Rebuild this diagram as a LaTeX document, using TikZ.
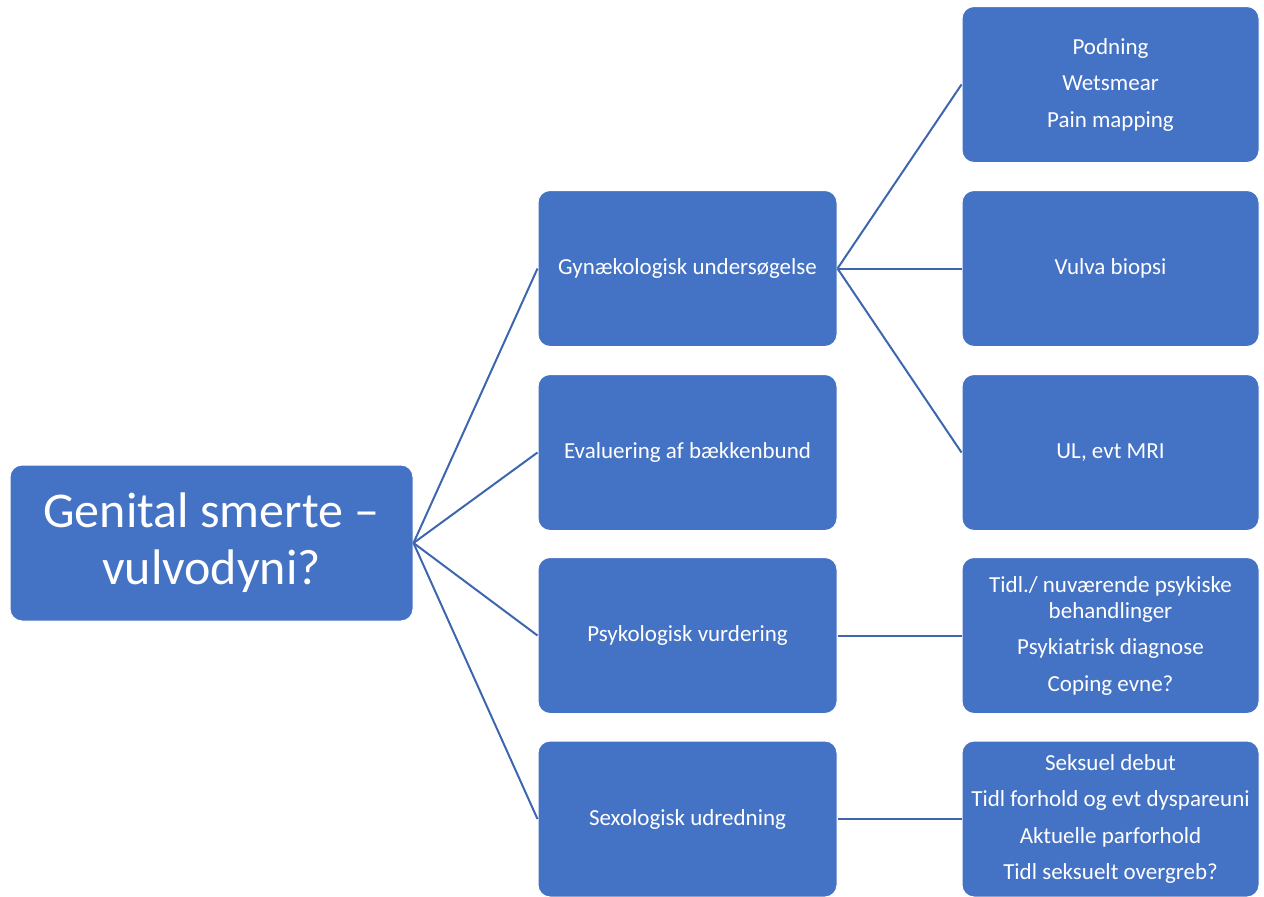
\documentclass[tikz,border=0pt]{standalone}
\usepackage{fontspec}
\setmainfont{Carlito}
\definecolor{boxblue}{HTML}{4472C4}
\definecolor{linkblue}{HTML}{3D66AF}
\begin{document}
\begin{tikzpicture}[x=1pt,y=-1pt,
  box/.style={rectangle, rounded corners=12pt, fill=boxblue, draw=white, line width=1pt,
    text=white, align=center, inner sep=0pt, minimum height=156pt},
  rootbox/.style={box, minimum width=403pt, font=\fontsize{50}{57}\selectfont},
  midbox/.style={box, minimum width=299pt, font=\fontsize{23}{26}\selectfont},
  leafbox/.style={box, minimum width=297pt, font=\fontsize{23}{26}\selectfont},
  link/.style={draw=linkblue, line width=2pt}]
\useasboundingbox (0,0) rectangle (1264,897);

\node[rootbox] (root) at (211.5,543) {Genital smerte –\\vulvodyni?};

\node[midbox] (gyn) at (687.5,268.5) {Gynækologisk undersøgelse};
\node[midbox] (evl) at (687.5,452.5) {Evaluering af bækkenbund};
\node[midbox] (psy) at (687.5,635.5) {Psykologisk vurdering};
\node[midbox] (sex) at (687.5,819) {Sexologisk udredning};

\node[leafbox] (r1) at (1110.5,84.5) {Podning\\[10.5pt]Wetsmear\\[10.5pt]Pain mapping};
\node[leafbox] (r2) at (1110.5,268.5) {Vulva biopsi};
\node[leafbox] (r3) at (1110.5,452.5) {UL, evt MRI};
\node[leafbox] (r4) at (1110.5,635.5) {Tidl./ nuværende psykiske\\behandlinger\\[10.5pt]Psykiatrisk diagnose\\[10.5pt]Coping evne?};
\node[leafbox] (r5) at (1110.5,819) {Seksuel debut\\[10.5pt]Tidl forhold og evt dyspareuni\\[10.5pt]Aktuelle parforhold\\[10.5pt]Tidl seksuelt overgreb?};

\foreach \m in {gyn,evl,psy,sex} \draw[link] (root.east) -- (\m.west);
\foreach \r in {r1,r2,r3} \draw[link] (gyn.east) -- (\r.west);
\draw[link] (psy.east) -- (r4.west);
\draw[link] (sex.east) -- (r5.west);
\end{tikzpicture}
\end{document}
